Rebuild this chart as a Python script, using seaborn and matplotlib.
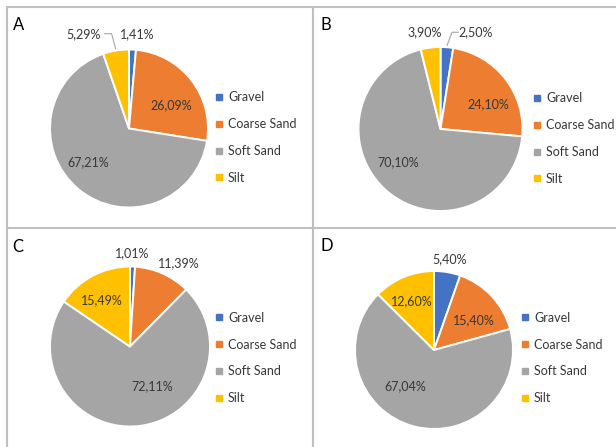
import matplotlib
matplotlib.use("Agg")
import matplotlib.pyplot as plt
from matplotlib.lines import Line2D
import numpy as np
import seaborn as sns

# Grain-size composition of the four sediment samples
categories = ["Gravel", "Coarse Sand", "Soft Sand", "Silt"]
panel_names = ["A", "B", "C", "D"]
values_a = [1.41, 26.09, 67.21, 5.29]
values_b = [2.50, 24.10, 70.10, 3.90]
values_c = [1.01, 11.39, 72.11, 15.49]
values_d = [5.40, 15.40, 67.04, 12.60]

sns.set_theme(style="white")
plt.rcParams["font.family"] = ["Lato", "DejaVu Sans"]
palette = sns.color_palette(["#4472C4", "#ED7D31", "#A5A5A5", "#FFC000"])

W, H = 616, 447
fig = plt.figure(figsize=(W / 100, H / 100), dpi=100)
fig.patch.set_facecolor("white")

TEXT = "#383838"
LEADER = "#A6A6A6"
BORDER = "#BFBFBF"
FS = 9


def fx(px):
    return px / W


def fy(py):
    return 1 - py / H


# Layout of each panel: pie centre/radius (px), legend text start / centre (px),
# panel letter position, data-label positions in pie units, optional leader lines
layout = {
    "A": dict(center=(129, 128.5), radius=79, legend=(228, 137.5), letter=(12.5, 30),
              labels=[(0.10, 1.19), (0.54, 0.29), (-0.52, -0.43), (-0.58, 1.20)],
              leader={3: [(-0.31, 1.20), (-0.22, 1.20)]}),
    "B": dict(center=(440.5, 129), radius=82, legend=(546, 138.5), letter=(320.5, 30),
              labels=[(0.43, 1.18), (0.58, 0.30), (-0.51, -0.41), (-0.19, 1.18)],
              leader={0: [(0.22, 1.18), (0.14, 1.18)]}),
    "C": dict(center=(130, 346.5), radius=80, legend=(228, 358), letter=(12.5, 252),
              labels=[(0.03, 1.17), (0.61, 1.04), (0.28, -0.50), (-0.35, 0.58)],
              leader={}),
    "D": dict(center=(434, 350), radius=79, legend=(534, 358), letter=(320.5, 251),
              labels=[(0.20, 1.15), (0.51, 0.38), (-0.37, -0.46), (-0.28, 0.62)],
              leader={}),
}

all_values = [values_a, values_b, values_c, values_d]


def fmt(v):
    return f"{v:.2f}".replace(".", ",") + "%"


for name, vals in zip(panel_names, all_values):
    lay = layout[name]
    cx, cy = lay["center"]
    r = lay["radius"]
    ax = fig.add_axes([fx(cx - r), fy(cy + r), fx(2 * r), 2 * r / H])
    wedges, _ = ax.pie(vals, colors=palette, startangle=90, counterclock=False,
                       radius=1.0,
                       wedgeprops=dict(edgecolor="white", linewidth=1.4))
    ax.set_xlim(-1, 1)
    ax.set_ylim(-1, 1)
    ax.set_aspect("equal")
    ax.axis("off")

    for i, (v, pos) in enumerate(zip(vals, lay["labels"])):
        ax.text(pos[0], pos[1], fmt(v), ha="center", va="center",
                fontsize=FS, color=TEXT, clip_on=False)
        if i in lay["leader"]:
            w = wedges[i]
            mid = np.deg2rad((w.theta1 + w.theta2) / 2)
            pts = lay["leader"][i] + [(1.02 * np.cos(mid), 1.02 * np.sin(mid))]
            xs, ys = zip(*pts)
            ax.add_line(Line2D(xs, ys, color=LEADER, lw=0.8, clip_on=False))

    # legend
    handles = [Line2D([], [], marker="s", linestyle="none", markersize=4.2,
                      markerfacecolor=c, markeredgecolor=c) for c in palette]
    tx, ty = lay["legend"]
    fs_px = FS * 100 / 72
    anchor_x = tx - (0.6 + 0.4) * fs_px
    fig.legend(handles, categories, loc="center left",
               bbox_to_anchor=(fx(anchor_x), fy(ty)),
               bbox_transform=fig.transFigure, frameon=False,
               fontsize=FS, labelcolor=TEXT, handlelength=0.6,
               handletextpad=0.4, labelspacing=1.19, borderpad=0,
               borderaxespad=0)

    lx, ly = lay["letter"]
    fig.text(fx(lx), fy(ly), name, fontsize=12, color="black",
             ha="left", va="baseline")

# panel frames
for seg in [((7, 7), (7, H)), ((312.5, 7), (312.5, H)), ((7, 7), (W, 7)),
            ((7, 227.5), (W, 227.5))]:
    (x0, y0), (x1, y1) = seg
    fig.add_artist(Line2D([fx(x0), fx(x1)], [fy(y0), fy(y1)],
                          transform=fig.transFigure, color=BORDER, lw=1.5))

fig.savefig("out.png", dpi=100, facecolor="white")
